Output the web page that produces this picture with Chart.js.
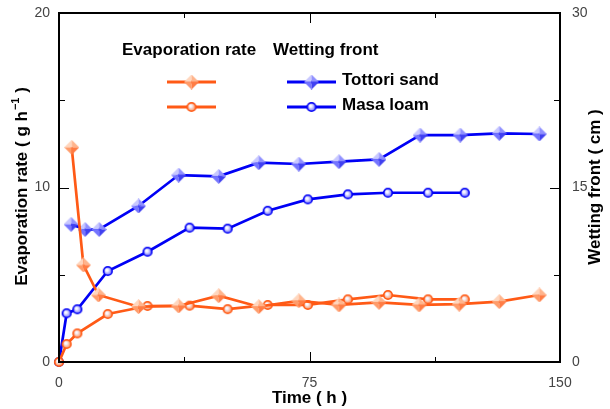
<!DOCTYPE html>
<html>
<head>
<meta charset="utf-8">
<script src="https://cdn.jsdelivr.net/npm/chart.js@4/dist/chart.umd.min.js"></script>
<style>
  html, body { margin: 0; padding: 0; background: #fff; }
  #wrap { width: 610px; height: 409px; }
</style>
</head>
<body>
<div id="wrap"><canvas id="chart" width="610" height="409"></canvas></div>
<script>
// Tottori sand
const tottoriEvapTime = [3.8, 7.3, 11.8, 23.8, 35.8, 47.8, 59.8, 71.8, 83.8, 95.8, 107.8, 119.8, 131.8, 143.8];
const tottoriEvap = [12.3, 5.56, 3.84, 3.17, 3.21, 3.8, 3.17, 3.51, 3.27, 3.42, 3.27, 3.32, 3.46, 3.84];
const tottoriWetTime = [3.6, 7.8, 12, 23.8, 35.8, 47.8, 59.8, 71.8, 83.8, 95.8, 108.1, 120.1, 131.8, 143.8];
const tottoriWet = [11.84, 11.4, 11.4, 13.41, 16.07, 15.96, 17.13, 17.02, 17.22, 17.42, 19.51, 19.51, 19.66, 19.6];

// Masa loam
const masaTime = [0, 2.3, 5.5, 14.6, 26.5, 39.1, 50.5, 62.5, 74.5, 86.5, 98.5, 110.5, 121.5];
const masaEvap = [0, 1.03, 1.64, 2.75, 3.21, 3.23, 3.03, 3.27, 3.27, 3.59, 3.84, 3.59, 3.59];
const masaWet = [0, 4.19, 4.53, 7.82, 9.48, 11.55, 11.46, 13.0, 13.98, 14.41, 14.55, 14.55, 14.55];

const xTicks = [0, 75, 150];
const xMinor = [37.5, 112.5];
const yTicks = [0, 10, 20];
const yMinor = [5, 15];
const y1Ticks = [0, 15, 30];
const y1Minor = [7.5, 22.5];

const ORANGE = '#ff5a16';
const BLUE = '#0000f5';
const BOLD = 'bold 17px "Liberation Sans", Arial, sans-serif';

function makeDiamond(tl, tr, bl, br) {
  const s = 15, c = s / 2;
  const cv = document.createElement('canvas');
  cv.width = s; cv.height = s;
  const g = cv.getContext('2d');
  const tri = (ax, ay, bx, by, col) => {
    g.beginPath(); g.moveTo(c, c); g.lineTo(ax, ay); g.lineTo(bx, by); g.closePath();
    g.fillStyle = col; g.fill();
  };
  tri(c, 0, 0, c, tl);
  tri(c, 0, s, c, tr);
  tri(0, c, c, s, bl);
  tri(s, c, c, s, br);
  return cv;
}

function makeCircle(edge, mid) {
  const s = 12, c = s / 2;
  const cv = document.createElement('canvas');
  cv.width = s; cv.height = s;
  const g = cv.getContext('2d');
  const gr = g.createRadialGradient(c - 1.2, c - 1.2, 0.2, c, c, 4.2);
  gr.addColorStop(0, '#ffffff');
  gr.addColorStop(0.25, '#f4f4ff');
  gr.addColorStop(1, mid);
  g.beginPath(); g.arc(c, c, 4.3, 0, Math.PI * 2);
  g.fillStyle = gr; g.fill();
  g.lineWidth = 1.6; g.strokeStyle = edge; g.stroke();
  return cv;
}

const orangeDiamond = makeDiamond('#ffd6be', '#ffb48c', '#ff9c6a', '#ff7c44');
const blueDiamond = makeDiamond('#c8c8ff', '#9090ff', '#7474ff', '#4040f0');
const orangeCircle = makeCircle(ORANGE, '#ff8a50');
const blueCircle = makeCircle(BLUE, '#6a6aff');

const toXY = (xs, ys) => xs.map((x, i) => ({ x: x, y: ys[i] }));

const frame = {
  id: 'frame',
  afterDraw(chart) {
    const ctx = chart.ctx;
    const a = chart.chartArea;
    const sx = chart.scales.x, sy = chart.scales.y, sy1 = chart.scales.y1;
    ctx.save();
    ctx.strokeStyle = '#000';
    ctx.lineWidth = 2;
    ctx.strokeRect(a.left, a.top, a.right - a.left, a.bottom - a.top);
    ctx.lineWidth = 1;
    ctx.beginPath();
    const tx = (v, len) => {
      const p = Math.round(sx.getPixelForValue(v)) + 0.5;
      ctx.moveTo(p, a.bottom); ctx.lineTo(p, a.bottom - len);
      ctx.moveTo(p, a.top); ctx.lineTo(p, a.top + len);
    };
    xTicks.forEach(v => tx(v, 10));
    xMinor.forEach(v => tx(v, 5));
    const ty = (v, len) => {
      const p = Math.round(sy.getPixelForValue(v)) + 0.5;
      ctx.moveTo(a.left, p); ctx.lineTo(a.left + len, p);
    };
    yTicks.forEach(v => ty(v, 10));
    yMinor.forEach(v => ty(v, 6));
    const ty1 = (v, len) => {
      const p = Math.round(sy1.getPixelForValue(v)) + 0.5;
      ctx.moveTo(a.right, p); ctx.lineTo(a.right - len, p);
    };
    y1Ticks.forEach(v => ty1(v, 10));
    y1Minor.forEach(v => ty1(v, 6));
    ctx.stroke();

    ctx.fillStyle = '#444';
    ctx.font = '14px "Liberation Sans", Arial, sans-serif';
    ctx.textBaseline = 'middle';
    ctx.textAlign = 'center';
    xTicks.forEach(v => ctx.fillText(String(v), sx.getPixelForValue(v), a.bottom + 21));
    ctx.textAlign = 'right';
    yTicks.forEach(v => ctx.fillText(String(v), a.left - 9, sy.getPixelForValue(v)));
    ctx.textAlign = 'left';
    y1Ticks.forEach(v => ctx.fillText(String(v), a.right + 12, sy1.getPixelForValue(v)));

    ctx.fillStyle = '#000';
    ctx.font = BOLD;
    ctx.textAlign = 'center';
    ctx.fillText('Time ( h )', (a.left + a.right) / 2, 398);

    // left title with superscript
    ctx.save();
    ctx.translate(22, 187);
    ctx.rotate(-Math.PI / 2);
    const p1 = 'Evaporation rate ( g h', sup = '\u22121', p2 = ' )';
    const w1 = ctx.measureText(p1).width;
    ctx.font = 'bold 11px "Liberation Sans", Arial, sans-serif';
    const ws = ctx.measureText(sup).width;
    ctx.font = BOLD;
    const w2 = ctx.measureText(p2).width;
    let x0 = -(w1 + ws + w2) / 2;
    ctx.textAlign = 'left';
    ctx.fillText(p1, x0, 0);
    ctx.font = 'bold 11px "Liberation Sans", Arial, sans-serif';
    ctx.fillText(sup, x0 + w1 + 1, -6);
    ctx.font = BOLD;
    ctx.fillText(p2, x0 + w1 + ws + 1, 0);
    ctx.restore();

    ctx.save();
    ctx.translate(595, 187);
    ctx.rotate(-Math.PI / 2);
    ctx.textAlign = 'center';
    ctx.fillText('Wetting front ( cm )', 0, 0);
    ctx.restore();

    // legend
    ctx.textAlign = 'left';
    ctx.fillText('Evaporation rate', 122, 50);
    ctx.fillText('Wetting front', 273, 50);
    const row = (x, y, color, img) => {
      ctx.strokeStyle = color;
      ctx.lineWidth = 3;
      ctx.beginPath(); ctx.moveTo(x, y); ctx.lineTo(x + 49, y); ctx.stroke();
      ctx.drawImage(img, x + 24.5 - img.width / 2, y - img.height / 2);
    };
    row(167, 82, ORANGE, orangeDiamond);
    row(167, 107, ORANGE, orangeCircle);
    row(287, 82, BLUE, blueDiamond);
    row(287, 107, BLUE, blueCircle);
    ctx.fillStyle = '#000';
    ctx.fillText('Tottori sand', 342, 80);
    ctx.fillText('Masa loam', 342, 105);
    ctx.restore();
  }
};

const line = (label, data, color, img, axis) => ({
  label: label,
  data: data,
  yAxisID: axis,
  borderColor: color,
  borderWidth: 2.7,
  pointStyle: img,
  pointRadius: 6,
  pointHoverRadius: 6,
  tension: 0,
  clip: false
});

new Chart(document.getElementById('chart'), {
  type: 'line',
  data: {
    datasets: [
      line('Tottori sand evaporation', toXY(tottoriEvapTime, tottoriEvap), ORANGE, orangeDiamond, 'y'),
      line('Masa loam evaporation', toXY(masaTime, masaEvap), ORANGE, orangeCircle, 'y'),
      line('Tottori sand wetting front', toXY(tottoriWetTime, tottoriWet), BLUE, blueDiamond, 'y1'),
      line('Masa loam wetting front', toXY(masaTime, masaWet), BLUE, blueCircle, 'y1')
    ]
  },
  options: {
    responsive: false,
    animation: false,
    layout: { padding: { left: 59, right: 50, top: 13, bottom: 47 } },
    plugins: { legend: { display: false }, tooltip: { enabled: false } },
    scales: {
      x: { type: 'linear', min: 0, max: 150, display: false },
      y: { type: 'linear', min: 0, max: 20, display: false },
      y1: { type: 'linear', min: 0, max: 30, display: false, position: 'right' }
    }
  },
  plugins: [frame]
});
</script>
</body>
</html>
